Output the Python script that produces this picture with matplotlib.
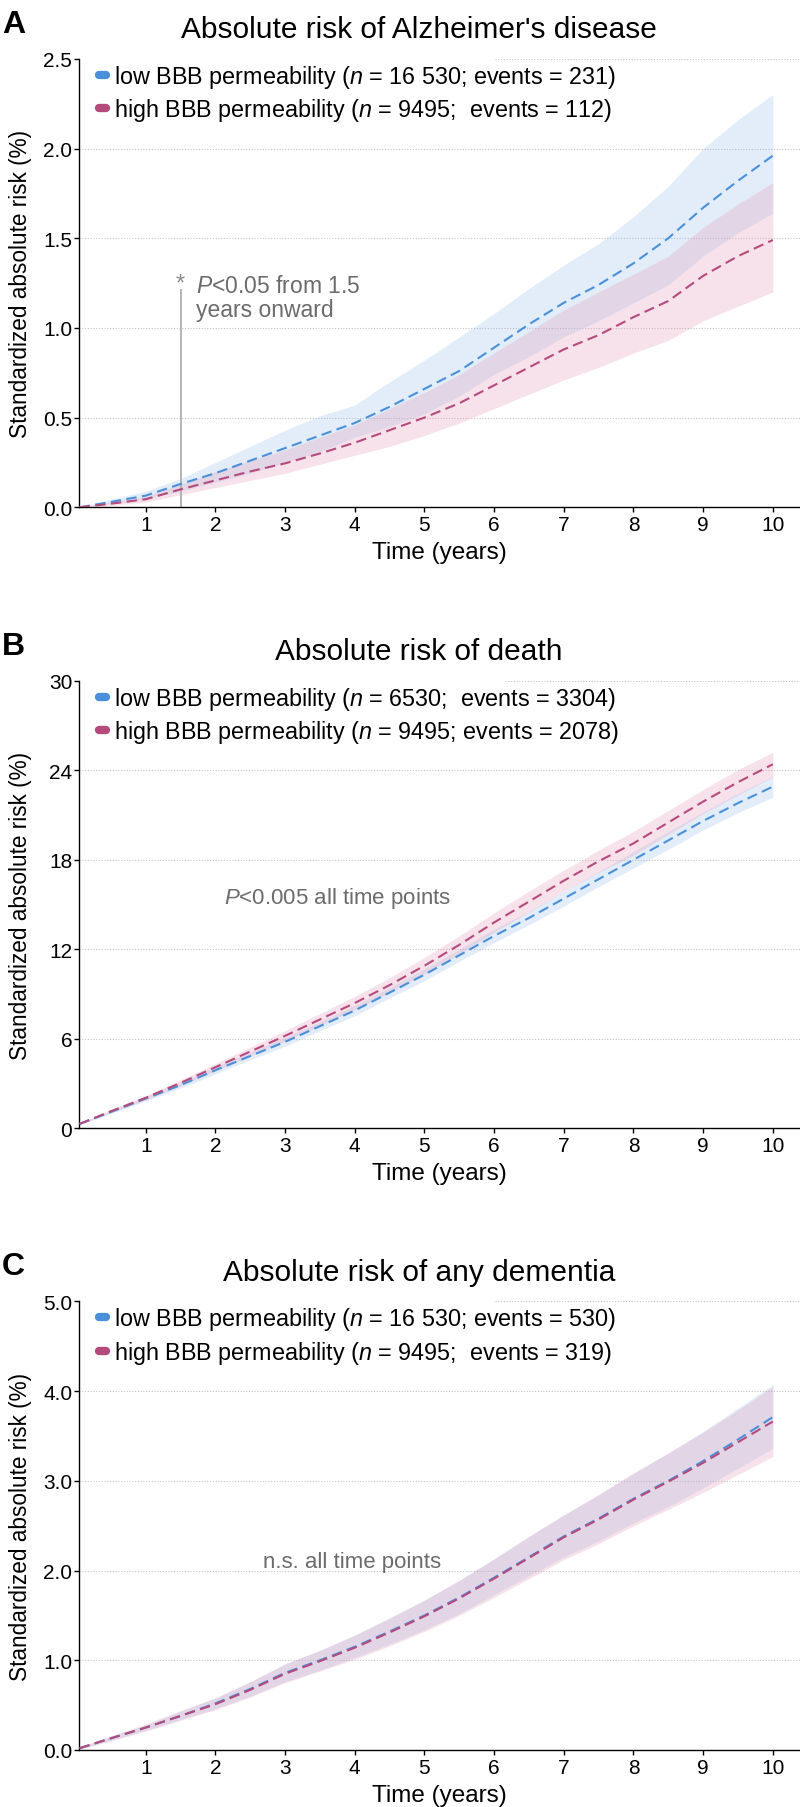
import matplotlib
matplotlib.use("Agg")
import matplotlib.pyplot as plt
from matplotlib.lines import Line2D

plt.rcParams['font.family'] = ['Liberation Sans', 'DejaVu Sans']
plt.rcParams['mathtext.fontset'] = 'custom'
plt.rcParams['mathtext.rm'] = 'Liberation Sans'
plt.rcParams['mathtext.it'] = 'Liberation Sans:italic'

# ---------------- data ----------------
time = [0.05, 0.5, 1.0, 1.5, 2.0, 2.5, 3.0, 3.5, 4.0, 4.5, 5.0,
        5.5, 6.0, 6.5, 7.0, 7.5, 8.0, 8.5, 9.0, 9.5, 10.0]

# A: Alzheimer's disease (%)
ad_low = [0.0, 0.03, 0.065, 0.13, 0.19, 0.26, 0.33, 0.40, 0.47, 0.56, 0.66,
          0.76, 0.89, 1.02, 1.14, 1.24, 1.36, 1.50, 1.67, 1.82, 1.96]
ad_low_hi = [0.0, 0.045, 0.09, 0.16, 0.25, 0.34, 0.43, 0.51, 0.57, 0.70, 0.82,
             0.95, 1.08, 1.22, 1.35, 1.47, 1.62, 1.79, 2.00, 2.16, 2.30]
ad_low_lo = [0.0, 0.02, 0.045, 0.09, 0.14, 0.19, 0.25, 0.31, 0.39, 0.45, 0.52,
             0.62, 0.74, 0.84, 0.95, 1.04, 1.14, 1.24, 1.40, 1.53, 1.64]
ad_high = [0.0, 0.02, 0.045, 0.10, 0.15, 0.20, 0.245, 0.30, 0.36, 0.43, 0.50,
           0.58, 0.68, 0.78, 0.88, 0.96, 1.06, 1.15, 1.29, 1.40, 1.49]
ad_high_hi = [0.0, 0.03, 0.06, 0.13, 0.20, 0.26, 0.32, 0.39, 0.46, 0.55, 0.64,
              0.74, 0.86, 0.98, 1.10, 1.20, 1.30, 1.40, 1.56, 1.69, 1.81]
ad_high_lo = [0.0, 0.01, 0.03, 0.07, 0.11, 0.15, 0.19, 0.24, 0.29, 0.34, 0.40,
              0.47, 0.55, 0.63, 0.71, 0.78, 0.86, 0.93, 1.04, 1.12, 1.20]

# B: death (%)
death_low = [0.3, 1.1, 2.0, 2.9, 3.9, 4.85, 5.8, 6.85, 7.9, 9.1, 10.3,
             11.6, 12.9, 14.1, 15.4, 16.7, 18.0, 19.3, 20.6, 21.8, 22.9]
death_low_lo = [0.25, 1.0, 1.85, 2.7, 3.65, 4.6, 5.5, 6.55, 7.55, 8.75, 9.9,
                11.2, 12.45, 13.65, 14.9, 16.2, 17.45, 18.7, 20.0, 21.15, 22.2]
death_low_hi = [0.35, 1.2, 2.15, 3.1, 4.15, 5.1, 6.1, 7.15, 8.25, 9.45, 10.7,
                12.0, 13.35, 14.55, 15.9, 17.2, 18.55, 19.9, 21.2, 22.45, 23.6]
death_high = [0.3, 1.15, 2.05, 3.05, 4.1, 5.15, 6.2, 7.3, 8.4, 9.6, 10.9,
              12.3, 13.8, 15.2, 16.6, 17.9, 19.1, 20.5, 21.9, 23.2, 24.4]
death_high_lo = [0.25, 1.05, 1.9, 2.85, 3.85, 4.85, 5.85, 6.9, 7.95, 9.1, 10.35,
                 11.7, 13.15, 14.5, 15.9, 17.15, 18.3, 19.7, 21.1, 22.35, 23.55]
death_high_hi = [0.35, 1.25, 2.2, 3.25, 4.35, 5.45, 6.55, 7.7, 8.85, 10.1, 11.45,
                 12.9, 14.45, 15.9, 17.3, 18.65, 19.9, 21.3, 22.7, 24.05, 25.2]

# C: any dementia (%)
dem_low = [0.02, 0.13, 0.25, 0.38, 0.52, 0.68, 0.86, 1.0, 1.15, 1.32, 1.5,
           1.7, 1.92, 2.15, 2.38, 2.58, 2.8, 3.0, 3.22, 3.46, 3.71]
dem_low_lo = [0.01, 0.11, 0.22, 0.34, 0.46, 0.6, 0.76, 0.89, 1.03, 1.18, 1.34,
              1.52, 1.73, 1.94, 2.15, 2.33, 2.53, 2.71, 2.92, 3.14, 3.36]
dem_low_hi = [0.03, 0.15, 0.28, 0.43, 0.58, 0.76, 0.96, 1.11, 1.28, 1.47, 1.67,
              1.89, 2.13, 2.38, 2.62, 2.84, 3.08, 3.31, 3.55, 3.81, 4.07]
dem_high = [0.02, 0.13, 0.25, 0.38, 0.51, 0.67, 0.85, 0.99, 1.14, 1.31, 1.49,
            1.69, 1.91, 2.14, 2.37, 2.57, 2.79, 2.99, 3.2, 3.43, 3.66]
dem_high_lo = [0.01, 0.1, 0.21, 0.33, 0.45, 0.59, 0.75, 0.88, 1.01, 1.16, 1.32,
               1.5, 1.7, 1.91, 2.12, 2.3, 2.5, 2.68, 2.87, 3.07, 3.27]
dem_high_hi = [0.03, 0.16, 0.29, 0.44, 0.58, 0.76, 0.96, 1.11, 1.28, 1.47, 1.67,
               1.89, 2.13, 2.38, 2.62, 2.85, 3.09, 3.31, 3.54, 3.79, 4.05]

x_ticks = [1, 2, 3, 4, 5, 6, 7, 8, 9, 10]
yticks_A = [0.0, 0.5, 1.0, 1.5, 2.0, 2.5]
yticks_B = [0, 6, 12, 18, 24, 30]
yticks_C = [0.0, 1.0, 2.0, 3.0, 4.0, 5.0]

titles = ["Absolute risk of Alzheimer's disease", "Absolute risk of death",
          "Absolute risk of any dementia"]
letters = ["A", "B", "C"]
legend_low = [r"low BBB permeability ($\it{n}$ = 16 530; events = 231)",
              r"low BBB permeability ($\it{n}$ = 6530;  events = 3304)",
              r"low BBB permeability ($\it{n}$ = 16 530; events = 530)"]
legend_high = [r"high BBB permeability ($\it{n}$ = 9495;  events = 112)",
               r"high BBB permeability ($\it{n}$ = 9495; events = 2078)",
               r"high BBB permeability ($\it{n}$ = 9495;  events = 319)"]

# ---------------- style ----------------
BLUE = '#4a90d9'
PINK = '#b54a7c'
BLUE_FILL = '#7fb0e8'
PINK_FILL = '#e59ab8'
GREY_TXT = '#6b6b6b'

W, H = 800, 1808
fig = plt.figure(figsize=(W / 100, H / 100), dpi=100)

ax_left = 79.3 / W
ax_w = 1.0 - ax_left
tops_px = [59.8, 681.7, 1302.3]
bots_px = [508.3, 1129.4, 1751.0]

panels = [
    (ad_low, ad_low_lo, ad_low_hi, ad_high, ad_high_lo, ad_high_hi, yticks_A, "{:.1f}", 0.577),
    (death_low, death_low_lo, death_low_hi, death_high, death_high_lo, death_high_hi, yticks_B, "{:.0f}", 0.59),
    (dem_low, dem_low_lo, dem_low_hi, dem_high, dem_high_lo, dem_high_hi, yticks_C, "{:.1f}", 0.577),
]

axes = []
for i, (lo, lo_l, lo_h, hi, hi_l, hi_h, yt, fmt, gstart) in enumerate(panels):
    top, bot = tops_px[i], bots_px[i]
    ax = fig.add_axes([ax_left, 1 - bot / H, ax_w, (bot - top) / H])
    axes.append(ax)
    ax.set_xlim(0.047, 10.39)
    ax.set_ylim(yt[0], yt[-1])

    # gridlines
    for j, v in enumerate(yt[1:]):
        xmin = gstart if j == len(yt) - 2 else 0.0
        ax.axhline(v, xmin=xmin, xmax=1, color='#c4c4c4', lw=0.8, ls=(0, (1, 1.5)), zorder=0)

    ax.fill_between(time, lo_l, lo_h, color=BLUE_FILL, alpha=0.22, lw=0, zorder=1)
    ax.fill_between(time, hi_l, hi_h, color=PINK_FILL, alpha=0.28, lw=0, zorder=1)
    ax.plot(time, lo, color=BLUE, lw=1.5, ls=(0, (5, 2.6)), zorder=3)
    ax.plot(time, hi, color=PINK, lw=1.5, ls=(0, (5, 2.6)), zorder=3)

    ax.set_xticks(x_ticks)
    ax.set_xticklabels([str(t) for t in x_ticks])
    ax.set_yticks(yt)
    ax.set_yticklabels([fmt.format(v) for v in yt])
    ax.tick_params(axis='both', direction='out', length=3.6, width=1, labelsize=15,
                   color='black')
    ax.tick_params(axis='x', pad=2)
    ax.tick_params(axis='y', pad=1.5)
    for s in ['top', 'right']:
        ax.spines[s].set_visible(False)
    for s in ['left', 'bottom']:
        ax.spines[s].set_linewidth(1.0)

    ax.set_xlabel("Time (years)", fontsize=17.5)
    ax.xaxis.set_label_coords(0.5, -(553 - 508.3) / (bot - top))
    ax.xaxis.label.set_va('center')
    ax.set_ylabel("Standardized absolute risk (%)", fontsize=16.3)
    ax.yaxis.set_label_coords(-(79.3 - 21) / (W - 79.3), 0.5)
    ax.yaxis.label.set_va('center')

    handles = [Line2D([0], [0], color=BLUE, lw=6, solid_capstyle='round'),
               Line2D([0], [0], color=PINK, lw=6, solid_capstyle='round')]
    ax.legend(handles, [legend_low[i], legend_high[i]], loc='upper left',
              bbox_to_anchor=((99 - 79.3) / (W - 79.3), 1.0 - 4 / (bot - top)),
              frameon=False, fontsize=16.8, handlelength=0.3, handletextpad=0.35,
              borderpad=0, borderaxespad=0, labelspacing=0.28)

    # title and panel letter
    fig.text(419 / W, 1 - (top - 21.5) / H, titles[i], fontsize=21.5,
             ha='center', va='baseline')
    fig.text(2 / W, 1 - (top - 27) / H, letters[i], fontsize=23, fontweight='bold',
             ha='left', va='baseline')

# annotations
axA, axB, axC = axes
axA.plot([1.5, 1.5], [0, 1.21], color='#b4b4b4', lw=1.4, zorder=2)
axA.text(1.5, 1.25, "*", color='#8a8a8a', fontsize=17, ha='center', va='center')
axA.text(1.72, 1.17, "$\\it{P}$<0.05 from 1.5\nyears onward", color=GREY_TXT,
         fontsize=16.5, ha='left', va='center', linespacing=1.1)
axB.text(2.12, 15.5, "$\\it{P}$<0.005 all time points", color=GREY_TXT, fontsize=16,
         ha='left', va='center')
axC.text(2.68, 2.095, "n.s. all time points", color=GREY_TXT, fontsize=16,
         ha='left', va='center')

fig.savefig("out.png", dpi=100)
